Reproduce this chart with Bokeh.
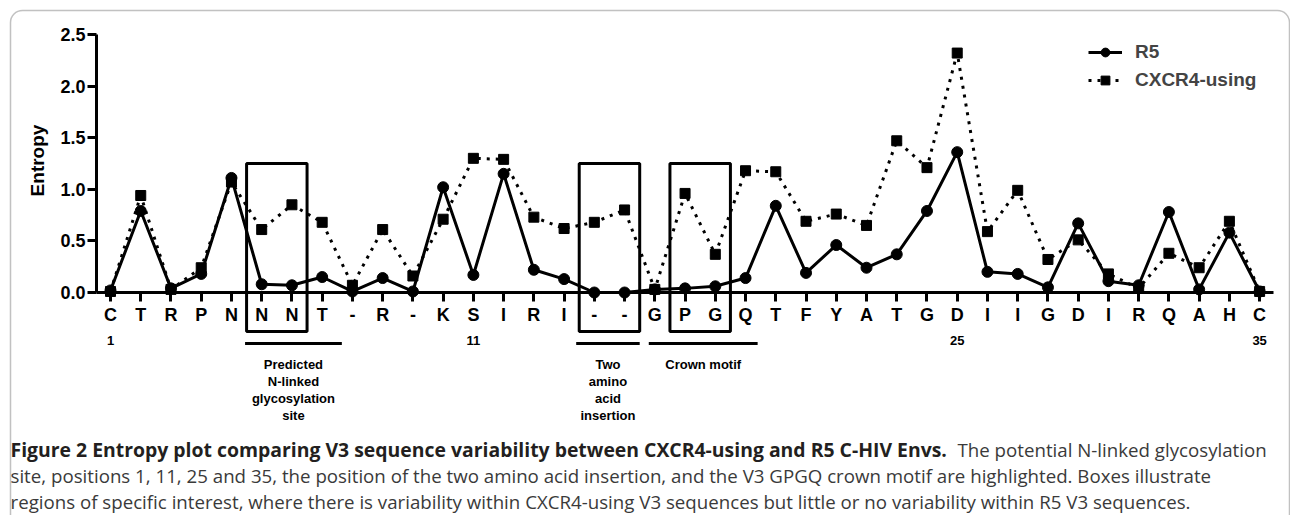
import math
from bokeh.plotting import figure
from bokeh.models import (LinearAxis, FixedTicker, NumeralTickFormatter, Range1d,
                          Legend, LegendItem, BoxAnnotation, ColumnDataSource)
from bokeh.core.properties import value
from bokeh.embed import file_html
from bokeh.resources import INLINE

# ---------------- data ----------------
residues = ["C", "T", "R", "P", "N", "N", "N", "T", "-", "R", "-", "K", "S", "I", "R", "I",
            "-", "-", "G", "P", "G", "Q", "T", "F", "Y", "A", "T", "G", "D", "I", "I", "G",
            "D", "I", "R", "Q", "A", "H", "C"]
r5_entropy = [0.02, 0.79, 0.04, 0.18, 1.11, 0.08, 0.07, 0.15, 0.01, 0.14, 0.01, 1.02, 0.17,
              1.15, 0.22, 0.13, 0.00, 0.00, 0.03, 0.04, 0.06, 0.14, 0.84, 0.19, 0.46, 0.24,
              0.37, 0.79, 1.36, 0.20, 0.18, 0.05, 0.67, 0.11, 0.07, 0.78, 0.03, 0.58, 0.01]
cxcr4_entropy = [0.01, 0.94, 0.03, 0.24, 1.07, 0.61, 0.85, 0.68, 0.07, 0.61, 0.16, 0.71, 1.30,
                 1.29, 0.73, 0.62, 0.68, 0.80, 0.03, 0.96, 0.37, 1.18, 1.17, 0.69, 0.76, 0.65,
                 1.47, 1.21, 2.32, 0.59, 0.99, 0.32, 0.51, 0.18, 0.04, 0.38, 0.24, 0.69, 0.01]
hxb2_labels = ["1", "11", "25", "35"]
hxb2_index = [1, 13, 29, 39]
box_first = [6, 17, 20]
box_last = [7, 18, 21]
box_top = 1.25
bar_start = [5.45, 16.4, 18.8]
bar_end = [8.65, 18.5, 22.4]
region_labels = ["Predicted\nN-linked\nglycosylation\nsite", "Two\namino\nacid\ninsertion",
                 "Crown motif"]
y_ticks = [0.0, 0.5, 1.0, 1.5, 2.0, 2.5]

caption_bold = "Figure 2 Entropy plot comparing V3 sequence variability between CXCR4-using and R5 C-HIV Envs."
caption_rest = ["The potential N-linked glycosylation",
                "site, positions 1, 11, 25 and 35, the position of the two amino acid insertion, and the V3 GPGQ crown motif are highlighted. Boxes illustrate",
                "regions of specific interest, where there is variability within CXCR4-using V3 sequences but little or no variability within R5 V3 sequences."]

positions = list(range(1, len(residues) + 1))

# ---------------- layout helpers (canvas px -> data) ----------------
XPX = 30.24   # px per position
YPX = 103.2   # px per entropy unit
def dx(px):
    return 1 + (px - 110) / XPX
def dy(py):
    return (292 - py) / YPX

W, H = 1290, 515
p = figure(width=W, height=H, x_range=Range1d(dx(0), dx(W)),
           y_range=Range1d(dy(H), dy(0)), x_axis_type=None, y_axis_type=None,
           output_backend="svg", toolbar_location=None, min_border=0,
           outline_line_color=None, background_fill_color="white")

AX_FONT = "Liberation Sans"

xaxis = LinearAxis(fixed_location=0, bounds=(dx(96), dx(1273)),
                   ticker=FixedTicker(ticks=positions),
                   major_label_overrides={i: s for i, s in zip(positions, residues)})
yaxis = LinearAxis(fixed_location=dx(96), bounds=(0, 2.5),
                   ticker=FixedTicker(ticks=y_ticks),
                   formatter=NumeralTickFormatter(format="0.0"))
for ax in (xaxis, yaxis):
    ax.axis_line_width = 3
    ax.major_tick_line_width = 3
    ax.major_tick_out = 9
    ax.major_tick_in = 0
    ax.minor_tick_out = 0
    ax.minor_tick_in = 0
    ax.major_label_text_font = AX_FONT
    ax.major_label_text_font_style = "bold"
    ax.major_label_text_font_size = "18px"
    ax.major_label_text_color = "black"
xaxis.major_label_standoff = 3
yaxis.major_label_standoff = 2
p.add_layout(xaxis, "below")
p.add_layout(yaxis, "left")

# outer rounded frame
p.add_layout(BoxAnnotation(left=dx(10), right=dx(1289), top=dy(10), bottom=dy(700),
                           fill_alpha=0, line_color="#333333", line_width=1.5,
                           border_radius=12, level="underlay"))

# boxes of interest
p.quad(left=[b - 0.5 for b in box_first], right=[b + 0.5 for b in box_last],
       top=[box_top] * 3, bottom=[dy(331)] * 3, fill_color=None,
       line_color="black", line_width=3)

# data series
src = ColumnDataSource(dict(x=positions, r5=r5_entropy, cx=cxcr4_entropy))
cx_line = p.line("x", "cx", source=src, line_color="black", line_width=3,
                 line_dash="3 6")
cx_pts = p.scatter("x", "cx", source=src, marker="square", size=10,
                   fill_color="black", line_color="black")
r5_line = p.line("x", "r5", source=src, line_color="black", line_width=3)
r5_pts = p.scatter("x", "r5", source=src, marker="circle", size=11,
                   fill_color="black", line_color="black")

# legend (location = bottom-left corner, measured from the bottom of the canvas)
legend = Legend(items=[LegendItem(label="R5", renderers=[r5_line, r5_pts]),
                       LegendItem(label="CXCR4-using", renderers=[cx_line, cx_pts])],
                location=(1088, H - 91), glyph_width=34, glyph_height=22, label_height=22,
                label_standoff=13, spacing=6, padding=0, margin=0,
                border_line_color=None, background_fill_alpha=0,
                label_text_font=AX_FONT, label_text_font_style="bold",
                label_text_font_size="19px")
p.add_layout(legend, "center")

# y axis title
p.text(x=[dx(37)], y=[dy(160)], text=["Entropy"], angle=math.pi / 2,
       text_font=value(AX_FONT), text_font_style="bold", text_font_size="19px",
       text_align="center", text_baseline="middle")

# HXB2 numbering
p.text(x=hxb2_index, y=[dy(340)] * 4, text=hxb2_labels, text_font=value(AX_FONT),
       text_font_style="bold", text_font_size="13px", text_align="center",
       text_baseline="middle")

# region bars and labels
p.segment(x0=bar_start, x1=bar_end, y0=[dy(343)] * 3, y1=[dy(343)] * 3,
          line_color="black", line_width=3)
p.text(x=[(a + b) / 2 for a, b in zip(bar_start, bar_end)], y=[dy(356)] * 3,
       text=region_labels, text_font=value(AX_FONT), text_font_style="bold",
       text_font_size="13px", text_align="center", text_baseline="top",
       text_line_height=1.15)

# caption
CAP_FONT = "Open Sans"
p.text(x=[dx(10)], y=[dy(449)], text=[caption_bold], text_font=value(CAP_FONT),
       text_font_style="bold", text_font_size="19.4px", text_align="left",
       text_baseline="alphabetic", text_color="#231f20")
p.text(x=[dx(957), dx(10), dx(10)], y=[dy(449), dy(475), dy(501)], text=caption_rest,
       text_font=value(CAP_FONT), text_font_size="18.7px", text_align="left",
       text_baseline="alphabetic", text_color="#3a3a3a")

open("out.html", "w").write(file_html(p, INLINE))
